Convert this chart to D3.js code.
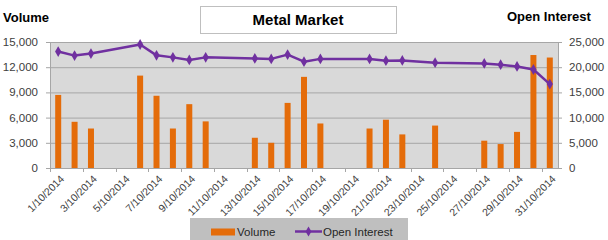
<!DOCTYPE html>
<html>
<head>
<meta charset="utf-8">
<script src="https://cdn.jsdelivr.net/npm/d3@7"></script>
<style>
  body { margin: 0; background: #fff; }
  text { font-family: "Liberation Sans", Arial, sans-serif; }
</style>
</head>
<body>
<svg id="chart" width="608" height="240"></svg>
<script>
// trading days in October 2014
let dates = ["1/10/2014","2/10/2014","3/10/2014","6/10/2014","7/10/2014","8/10/2014","9/10/2014","10/10/2014",
  "13/10/2014","14/10/2014","15/10/2014","16/10/2014","17/10/2014","20/10/2014","21/10/2014","22/10/2014",
  "24/10/2014","27/10/2014","28/10/2014","29/10/2014","30/10/2014","31/10/2014"];
let volume = [8700,5500,4700,11000,8600,4700,7600,5550,3600,3000,7750,10850,5300,4700,5750,4000,
  5050,3250,2850,4300,13450,13150];
let openInterest = [23100,22300,22700,24500,22350,21950,21450,21950,21750,21650,22500,21100,21650,21650,21300,21350,
  20900,20750,20500,20150,19550,16650];
let volTicks = [0,3000,6000,9000,12000,15000];
let oiTicks = [0,5000,10000,15000,20000,25000];

let parse = d3.timeParse("%-d/%m/%Y"), fmt = d3.timeFormat("%-d/%m/%Y");
let allDays = d3.timeDay.range(parse("1/10/2014"), parse("1/11/2014")).map(fmt);

let margin = {top: 42, left: 50, right: 50, bottom: 72};
let W = 608, H = 240;
let svg = d3.select("#chart");

let x = d3.scaleBand().domain(allDays).range([margin.left, W - margin.right]).padding(0);
let yL = d3.scaleLinear().domain([0, 15000]).range([H - margin.bottom, margin.top]);
let yR = d3.scaleLinear().domain([0, 25000]).range([H - margin.bottom, margin.top]);

// plot background
svg.append("rect")
  .attr("x", margin.left).attr("y", margin.top)
  .attr("width", W - margin.left - margin.right).attr("height", H - margin.top - margin.bottom)
  .attr("fill", "#d9d9d9");

// gridlines + outer ticks
svg.append("g").selectAll("line").data(volTicks).enter().append("line")
  .attr("x1", margin.left - 4).attr("x2", W - margin.right + 4)
  .attr("y1", d => yL(d) + 0.5).attr("y2", d => yL(d) + 0.5)
  .attr("stroke", "#a6a6a6").attr("stroke-width", 1);

// vertical axis lines
[margin.left, W - margin.right].forEach(function (px) {
  svg.append("line").attr("x1", px + 0.5).attr("x2", px + 0.5)
    .attr("y1", margin.top).attr("y2", H - margin.bottom)
    .attr("stroke", "#a6a6a6");
});

let fmtN = d3.format(",");
svg.append("g").selectAll("text").data(volTicks).enter().append("text")
  .attr("x", 38).attr("y", d => yL(d)).attr("dy", "0.35em")
  .attr("text-anchor", "end").attr("font-size", "11.5px").attr("fill", "#404040")
  .text(d => fmtN(d));
svg.append("g").selectAll("text").data(oiTicks).enter().append("text")
  .attr("x", 569).attr("y", d => yR(d)).attr("dy", "0.35em")
  .attr("text-anchor", "start").attr("font-size", "11.5px").attr("fill", "#404040")
  .text(d => fmtN(d));

// x axis ticks and labels (every second day)
let labelDays = allDays.filter((d, i) => i % 2 == 0);
svg.append("g").selectAll("line").data(labelDays).enter().append("line")
  .attr("x1", d => Math.round(x(d)) + 0.5).attr("x2", d => Math.round(x(d)) + 0.5)
  .attr("y1", H - margin.bottom).attr("y2", H - margin.bottom + 4)
  .attr("stroke", "#a6a6a6");
svg.append("g").selectAll("text").data(labelDays).enter().append("text")
  .attr("transform", d => "translate(" + (x(d) + x.bandwidth() / 2 + 4) + "," + (H - margin.bottom + 9) + ") rotate(-45)")
  .attr("text-anchor", "end").attr("dy", "0.35em")
  .attr("font-size", "10.5px").attr("fill", "#404040")
  .text(d => d);

// bars
let bw = 6;
svg.append("g").selectAll("rect").data(dates).enter().append("rect")
  .attr("x", d => x(d) + x.bandwidth() / 2 - bw / 2)
  .attr("y", (d, i) => yL(volume[i]))
  .attr("width", bw)
  .attr("height", (d, i) => yL(0) - yL(volume[i]))
  .attr("fill", "#e46c0a");

// open interest line
let pts = dates.map((d, i) => [x(d) + x.bandwidth() / 2, yR(openInterest[i])]);
svg.append("path").datum(pts)
  .attr("d", d3.line())
  .attr("fill", "none").attr("stroke", "#7030a0").attr("stroke-width", 2.5)
  .attr("stroke-linejoin", "round");
svg.append("g").selectAll("path").data(pts).enter().append("path")
  .attr("d", d3.symbol().type(d3.symbolDiamond).size(34))
  .attr("transform", d => "translate(" + d[0] + "," + d[1] + ")")
  .attr("fill", "#7030a0");

// title box
svg.append("rect").attr("x", 200.5).attr("y", 6.5).attr("width", 196).attr("height", 27)
  .attr("fill", "#fff").attr("stroke", "#bfbfbf");
svg.append("text").attr("x", 298).attr("y", 25).attr("text-anchor", "middle")
  .attr("font-size", "15px").attr("font-weight", "bold").attr("fill", "#000")
  .text("Metal Market");

// axis titles
svg.append("text").attr("x", 3).attr("y", 22).attr("font-size", "13px").attr("font-weight", "bold")
  .text("Volume");
svg.append("text").attr("x", 507).attr("y", 21).attr("font-size", "13px").attr("font-weight", "bold")
  .text("Open Interest");

// legend
let lg = svg.append("g");
lg.append("rect").attr("x", 190).attr("y", 218).attr("width", 218).attr("height", 23).attr("fill", "#bfbfbf");
lg.append("rect").attr("x", 211).attr("y", 228.5).attr("width", 24).attr("height", 7).attr("fill", "#e46c0a");
lg.append("text").attr("x", 237).attr("y", 232).attr("dy", "0.35em").attr("font-size", "11.5px").attr("fill", "#262626").text("Volume");
lg.append("line").attr("x1", 295).attr("x2", 322).attr("y1", 231.5).attr("y2", 231.5)
  .attr("stroke", "#7030a0").attr("stroke-width", 2.5);
lg.append("path").attr("d", d3.symbol().type(d3.symbolDiamond).size(30))
  .attr("transform", "translate(308.5,231.5)").attr("fill", "#7030a0");
lg.append("text").attr("x", 323).attr("y", 232).attr("dy", "0.35em").attr("font-size", "11.5px").attr("fill", "#262626").text("Open Interest");
</script>
</body>
</html>
